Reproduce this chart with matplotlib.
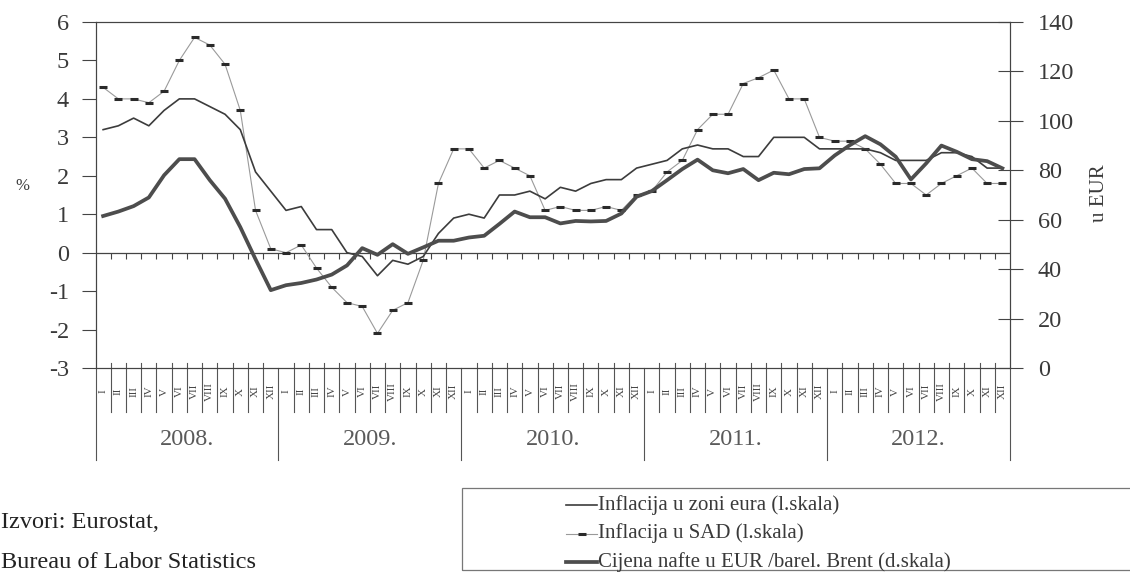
import numpy as np
import matplotlib
matplotlib.use("Agg")
import matplotlib.pyplot as plt
import matplotlib.transforms as mtransforms
from matplotlib.lines import Line2D
from matplotlib.patches import Rectangle

# ---------------- data ----------------
years = ["2008.", "2009.", "2010.", "2011.", "2012."]
month_labels = ["I", "II", "III", "IV", "V", "VI", "VII", "VIII", "IX", "X", "XI", "XII"]

euro = [3.2, 3.3, 3.5, 3.3, 3.7, 4.0, 4.0, 3.8, 3.6, 3.2, 2.1, 1.6,
        1.1, 1.2, 0.6, 0.6, 0.0, -0.1, -0.6, -0.2, -0.3, -0.1, 0.5, 0.9,
        1.0, 0.9, 1.5, 1.5, 1.6, 1.4, 1.7, 1.6, 1.8, 1.9, 1.9, 2.2,
        2.3, 2.4, 2.7, 2.8, 2.7, 2.7, 2.5, 2.5, 3.0, 3.0, 3.0, 2.7,
        2.7, 2.7, 2.7, 2.6, 2.4, 2.4, 2.4, 2.6, 2.6, 2.5, 2.2, 2.2]

usa = [4.3, 4.0, 4.0, 3.9, 4.2, 5.0, 5.6, 5.4, 4.9, 3.7, 1.1, 0.1,
       0.0, 0.2, -0.4, -0.9, -1.3, -1.4, -2.1, -1.5, -1.3, -0.2, 1.8, 2.7,
       2.7, 2.2, 2.4, 2.2, 2.0, 1.1, 1.2, 1.1, 1.1, 1.2, 1.1, 1.5,
       1.6, 2.1, 2.4, 3.2, 3.6, 3.6, 4.4, 4.55, 4.75, 4.0, 4.0, 3.0,
       2.9, 2.9, 2.7, 2.3, 1.8, 1.8, 1.5, 1.8, 2.0, 2.2, 1.8, 1.8]

oil = [61.5, 63.3, 65.5, 69.0, 78.0, 84.5, 84.5, 76.0, 68.5, 57.0, 44.0, 31.5,
       33.5, 34.4, 35.8, 37.8, 41.5, 48.5, 45.8, 50.1, 46.2, 48.8, 51.5, 51.5,
       52.8, 53.5, 58.3, 63.3, 61.0, 61.0, 58.5, 59.5, 59.3, 59.5, 62.5, 69.3,
       71.6, 76.0, 80.5, 84.3, 80.0, 78.8, 80.5, 76.0, 79.0, 78.4, 80.5, 80.8,
       86.0, 90.2, 93.8, 90.5, 85.5, 76.3, 82.8, 90.0, 87.5, 84.5, 83.7, 80.8]

labels = ["Inflacija u zoni eura (l.skala)",
          "Inflacija u SAD (l.skala)",
          "Cijena nafte u EUR /barel. Brent (d.skala)"]

# ---------------- figure ----------------
W, H = 1130, 580
SERIF = ["Liberation Serif", "DejaVu Serif"]
plt.rcParams["font.family"] = SERIF
TXT = "#3a3a3a"

fig = plt.figure(figsize=(W / 100, H / 100), dpi=100)
fig.patch.set_facecolor("white")
ax_l, ax_r, ax_t, ax_b = 95.5, 1010, 22, 368
ax = fig.add_axes([ax_l / W, 1 - ax_b / H, (ax_r - ax_l) / W, (ax_b - ax_t) / H])

x = np.arange(len(euro))

euro_style = dict(color="#3c3c3c", lw=1.2, solid_joinstyle="round")
usa_style = dict(color="#9a9a9a", lw=0.8, marker="_", ms=6, mew=2.2,
                 mec="#2a2a2a")
oil_style = dict(color="#4d4d4d", lw=2.7, solid_joinstyle="round")

ax.plot(x, euro, zorder=4, **euro_style)
ax.plot(x, usa, zorder=3, **usa_style)

ax.set_xlim(-0.5, len(euro) - 0.5)
ax.set_ylim(-3, 6)
ax.set_yticks(range(-3, 7))
ax.set_yticklabels([str(v) for v in range(-3, 7)])
ax.set_xticks([])
ax.tick_params(axis="y", direction="out", length=10, width=0.8, pad=9,
               labelsize=17.5, colors="#444", labelcolor=TXT)
for s in ax.spines.values():
    s.set_color("#444")
    s.set_linewidth(0.8)

ax2 = ax.twinx()
ax2.plot(x, oil, zorder=5, **oil_style)
ax2.set_ylim(0, 140)
ax2.set_yticks(range(0, 141, 20))
ax2.tick_params(axis="y", direction="inout", length=18, width=0.8, pad=11,
                labelsize=17.5, colors="#444", labelcolor=TXT)
for s in ax2.spines.values():
    s.set_color("#444")
    s.set_linewidth(0.8)
ax2.set_xlim(-0.5, len(euro) - 0.5)

# zero line with small ticks at month boundaries
ax.axhline(0, color="#444", lw=0.9, zorder=2)
bounds = np.arange(len(euro) - 1) + 0.5
ax.vlines(bounds, -0.16, 0, color="#444", lw=0.8, zorder=2)

# category axis below the plot
trans = mtransforms.blended_transform_factory(ax.transData, ax.transAxes)
all_bounds = np.arange(len(euro) + 1) - 0.5
for k, b in enumerate(all_bounds):
    if k % 12 == 0:
        y0, y1 = 0.0, -0.266
    else:
        y0, y1 = 0.015, -0.127
    ax.add_line(Line2D([b, b], [y0, y1], transform=trans, color="#555",
                       lw=0.8, clip_on=False))
for i in x:
    ax.text(i, -0.068, month_labels[i % 12], transform=trans, rotation=90,
            ha="center", va="center", fontsize=8, color="#444")
for j, yr in enumerate(years):
    ax.text(12 * j + 5.5, -0.208, yr, transform=trans, ha="center",
            va="center", fontsize=17.5, color="#5a5a5a")

# axis labels
fig.text(22 / W, 1 - 186 / H, "%", fontsize=12, color=TXT, ha="center",
         va="center")
fig.text(1100 / W, 1 - 193 / H, "u EUR", rotation=90, fontsize=15,
         color=TXT, ha="center", va="center")

# sources
fig.text(1 / W, 1 - 522 / H, "Izvori: Eurostat,", fontsize=17.5, color="#222",
         ha="left", va="center")
fig.text(1 / W, 1 - 562 / H, "Bureau of Labor Statistics", fontsize=17.5,
         color="#222", ha="left", va="center")

# legend (box reaches the right edge, as in the reference)
fig.add_artist(Rectangle((462 / W, 1 - 570 / H), (1150 - 462) / W,
                         (570 - 488) / H, transform=fig.transFigure,
                         fill=False, ec="#777", lw=0.9))
styles = [euro_style, usa_style, oil_style]
for j, (lab, st) in enumerate(zip(labels, styles)):
    yy = 1 - (505 + 28.5 * j) / H
    st2 = dict(st)
    if "marker" in st2:
        st2["markevery"] = [1]
    fig.add_artist(Line2D([566 / W, 581.5 / W, 597 / W], [yy, yy, yy],
                          transform=fig.transFigure, **st2))
    fig.text(598 / W, yy, lab, fontsize=15, color=TXT, ha="left",
             va="center")

fig.savefig("out.png", dpi=100, facecolor="white")
